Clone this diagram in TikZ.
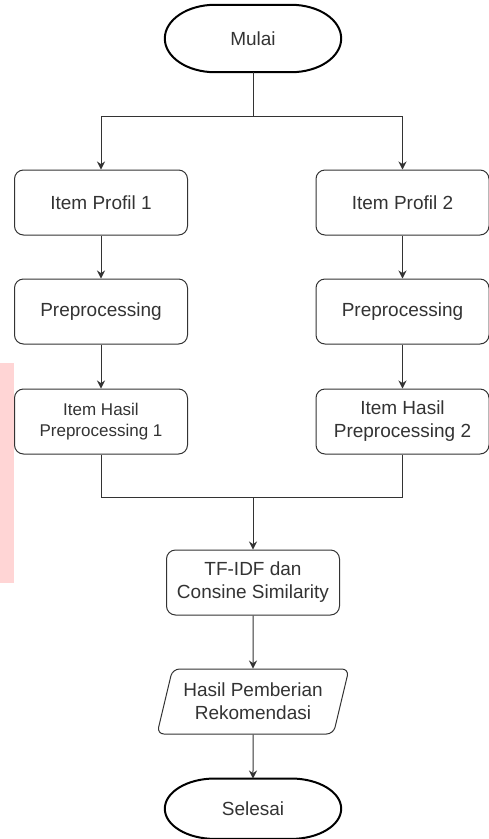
\documentclass[tikz,border=0pt]{standalone}
\usepackage{fontspec}
\setmainfont{Liberation Sans}
\usetikzlibrary{arrows.meta,calc,positioning,shapes.geometric}
\definecolor{ink}{HTML}{333333}
\definecolor{wmark}{HTML}{FFD5D5}
% outline of a start/end terminal around a named node
\newcommand{\termoutline}[1]{%
\draw[line width=2pt] ([xshift=50pt]#1.north west) -- ([xshift=-50pt]#1.north east)
 .. controls ([xshift=-22.4pt]#1.north east) and ($(#1.east)!0.552!(#1.north east)$) .. (#1.east)
 .. controls ($(#1.east)!0.552!(#1.south east)$) and ([xshift=-22.4pt]#1.south east) .. ([xshift=-50pt]#1.south east)
 -- ([xshift=50pt]#1.south west)
 .. controls ([xshift=22.4pt]#1.south west) and ($(#1.west)!0.552!(#1.south west)$) .. (#1.west)
 .. controls ($(#1.west)!0.552!(#1.north west)$) and ([xshift=22.4pt]#1.north west) .. ([xshift=50pt]#1.north west) -- cycle;}

\begin{document}
\begin{tikzpicture}[>={Stealth[length=8pt,width=8pt]},node distance=44pt,
 procbox/.style={draw=ink,line width=1pt,rounded corners=9pt,minimum width=173pt,minimum height=65pt,align=center,text=ink,inner sep=3pt,font=\fontsize{19}{23}\selectfont},
 iobox/.style={trapezium,trapezium left angle=70,trapezium right angle=110,trapezium stretches=true,draw=ink,line width=1pt,rounded corners=7pt,minimum width=192pt,minimum height=65pt,align=center,text=ink,inner sep=0pt,font=\fontsize{19}{23}\selectfont},
 terminal/.style={minimum width=176pt,minimum height=#1,inner sep=0pt,text=ink,font=\fontsize{19}{23}\selectfont},
 link/.style={draw=ink,line width=1pt}]
\useasboundingbox (0,0) rectangle (489pt,-839pt);
\fill[wmark] (0,-363pt) rectangle (14pt,-583pt);

\node[terminal=67pt] (mulai) at (253pt,-38.5pt) {Mulai};
\termoutline{mulai}
\node[procbox] (profil1) at (101pt,-202.5pt) {Item Profil 1};
\node[procbox] (profil2) at (402.5pt,-202.5pt) {Item Profil 2};
\node[procbox,below=43pt of profil1] (prep1) {Preprocessing};
\node[procbox,below=43pt of profil2] (prep2) {Preprocessing};
\node[procbox,below=of prep1,font=\fontsize{17}{21}\selectfont] (hasil1) {Item Hasil\\Preprocessing 1};
\node[procbox,below=of prep2] (hasil2) {Item Hasil\\Preprocessing 2};
\node[procbox] (tfidf) at (253pt,-582.5pt) {TF-IDF dan\\Consine Similarity};
\node[iobox,below=53pt of tfidf] (hasilrek) {Hasil Pemberian\\Rekomendasi};
\node[terminal=60pt,below=of hasilrek] (selesai) {Selesai};
\termoutline{selesai}

\coordinate (split) at ($(mulai.south)+(0,-44pt)$);
\coordinate (join) at ($(hasil1.south)!0.5!(hasil2.south)+(0,-43pt)$);
\draw[link] (mulai) -- (split);
\draw[link,->] (split) -| (profil1.north);
\draw[link,->] (split) -| (profil2.north);
\draw[link,->] (profil1) -- (prep1); \draw[link,->] (profil2) -- (prep2);
\draw[link,->] (prep1) -- (hasil1); \draw[link,->] (prep2) -- (hasil2);
\draw[link] (hasil1.south) |- (join); \draw[link] (hasil2.south) |- (join);
\draw[link,->] (join -| tfidf.north) -- (tfidf.north);
\draw[link,->] (tfidf) -- (hasilrek);
\draw[link,->] (hasilrek) -- (selesai);
\end{tikzpicture}
\end{document}
